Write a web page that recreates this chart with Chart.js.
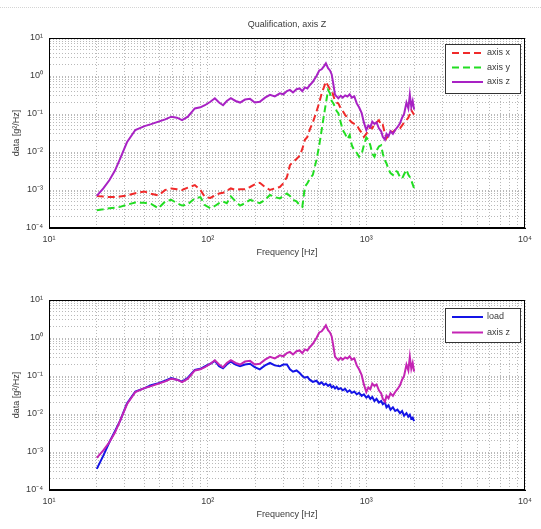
<!DOCTYPE html>
<html>
<head>
<meta charset="utf-8">
<script src="https://cdn.jsdelivr.net/npm/chart.js@4/dist/chart.umd.min.js"></script>
<style>
  body { margin: 0; background: #fff; }
  #wrap { position: relative; width: 541px; height: 529px; overflow: hidden; }
  #rule { position: absolute; left: 0; top: 7px; width: 541px; border-top: 1px dotted #d4d4d4; }
  canvas { position: absolute; left: 0; }
</style>
</head>
<body>
<div id="wrap">
  <div id="rule"></div>
  <canvas id="topChart" width="541" height="262" style="top:0"></canvas>
  <canvas id="bottomChart" width="541" height="267" style="top:262px"></canvas>
</div>
<script>
// frequency points [Hz]
const freq = [
    20, 22, 24, 26, 28, 31, 35, 40, 44, 49,
    54, 59, 64, 69, 75, 83, 90, 96, 104, 111,
    118, 125, 132, 140, 150, 160, 172, 185, 198, 213,
    230, 247, 265, 285, 300, 316, 330, 345, 363, 380,
    395, 410, 425, 441, 460, 485, 505, 523, 540, 556,
    574, 590, 605, 620, 635, 650, 666, 690, 710, 735,
    760, 785, 810, 840, 870, 900, 935, 965, 1000, 1030,
    1060, 1090, 1125, 1160, 1200, 1240, 1270, 1310, 1340, 1380,
    1420, 1470, 1520, 1570, 1630, 1680, 1730, 1790, 1840, 1880,
    1920, 1960, 2000
];

// PSD values [g^2/Hz]
const axisX = [
    6.9e-4, 6.7e-4, 6.5e-4, 6.5e-4, 6.7e-4, 7.2e-4, 8.2e-4, 9.1e-4, 8e-4, 7.2e-4,
    1.0e-3, 1.1e-3, 1.05e-3, 1.0e-3, 1.15e-3, 1.35e-3, 1.0e-3, 6.5e-4, 6.2e-4, 7.2e-4,
    8.1e-4, 8.5e-4, 9.5e-4, 1.1e-3, 1.0e-3, 1.05e-3, 1.05e-3, 1.2e-3, 1.4e-3, 1.55e-3,
    1.2e-3, 1.0e-3, 1.1e-3, 1.2e-3, 1.5e-3, 2.2e-3, 4.5e-3, 5.5e-3, 6.5e-3, 8e-3,
    0.012, 0.021, 0.025, 0.04, 0.06, 0.115, 0.2, 0.35, 0.5, 0.71,
    0.55, 0.45, 0.43, 0.3, 0.22, 0.2, 0.19, 0.14, 0.12, 0.095,
    0.08, 0.069, 0.06, 0.055, 0.052, 0.04, 0.032, 0.025, 0.03, 0.038,
    0.045, 0.042, 0.055, 0.06, 0.069, 0.05, 0.052, 0.03, 0.023, 0.028,
    0.035, 0.033, 0.038, 0.04, 0.042, 0.05, 0.06, 0.069, 0.08, 0.1,
    0.127, 0.11, 0.095
];

const axisY = [
    2.95e-4, 3.1e-4, 3.3e-4, 3.4e-4, 3.6e-4, 4.1e-4, 4.7e-4, 4.6e-4, 4.3e-4, 3.3e-4,
    5e-4, 5.5e-4, 4.5e-4, 3.9e-4, 4.2e-4, 6e-4, 6.5e-4, 4e-4, 3.3e-4, 3.8e-4,
    4.5e-4, 5e-4, 4.5e-4, 6.8e-4, 5e-4, 3.9e-4, 4.5e-4, 5.5e-4, 5e-4, 4.5e-4,
    5.5e-4, 7.4e-4, 6.5e-4, 6e-4, 7e-4, 8.1e-4, 7e-4, 5.5e-4, 5e-4, 4e-4,
    3.6e-4, 1.23e-3, 1.5e-3, 2e-3, 2.5e-3, 6.2e-3, 0.015, 0.038, 0.09, 0.19,
    0.43, 0.35, 0.22, 0.19, 0.15, 0.12, 0.105, 0.06, 0.038, 0.03,
    0.022, 0.028, 0.015, 0.011, 0.0095, 7.5e-3, 9e-3, 0.015, 0.024, 0.021,
    0.015, 9e-3, 7.5e-3, 0.011, 0.014, 0.015, 9e-3, 6e-3, 5e-3, 3.5e-3,
    2.8e-3, 2.5e-3, 3.2e-3, 3e-3, 2.2e-3, 2.0e-3, 2.6e-3, 3.4e-3, 2.5e-3, 2.2e-3,
    1.8e-3, 1.4e-3, 1.1e-3
];

const axisZ = [
    7e-4, 1.1e-3, 1.8e-3, 3.2e-3, 6.5e-3, 0.018, 0.038, 0.048, 0.054, 0.063,
    0.072, 0.085, 0.08, 0.069, 0.085, 0.14, 0.15, 0.17, 0.21, 0.26,
    0.2, 0.17, 0.22, 0.26, 0.22, 0.2, 0.24, 0.25, 0.2, 0.21,
    0.27, 0.32, 0.29, 0.35, 0.33, 0.4, 0.43, 0.37, 0.45, 0.47,
    0.4, 0.5, 0.47, 0.58, 0.7, 1.0, 1.4, 1.5, 1.8, 2.15,
    1.6, 1.4, 1.1, 0.6, 0.32, 0.29, 0.26, 0.3, 0.27, 0.31,
    0.29, 0.33, 0.27, 0.29, 0.19, 0.15, 0.105, 0.06, 0.038, 0.05,
    0.045, 0.063, 0.055, 0.06, 0.042, 0.035, 0.025, 0.021, 0.03, 0.026,
    0.035, 0.03, 0.038, 0.045, 0.057, 0.08, 0.1, 0.2, 0.14, 0.32,
    0.155, 0.22, 0.13
];

const load = [
    3.6e-4, 8e-4, 1.8e-3, 3.5e-3, 6.5e-3, 0.019, 0.039, 0.048, 0.057, 0.065,
    0.075, 0.088, 0.08, 0.071, 0.09, 0.145, 0.155, 0.18, 0.21, 0.25,
    0.18, 0.16, 0.2, 0.24, 0.2, 0.18, 0.2, 0.21, 0.17, 0.15,
    0.19, 0.22, 0.19, 0.18, 0.2, 0.2, 0.15, 0.13, 0.14, 0.12,
    0.1, 0.09, 0.095, 0.079, 0.07, 0.075, 0.062, 0.068, 0.058, 0.063,
    0.055, 0.06, 0.05, 0.054, 0.047, 0.052, 0.045, 0.048, 0.042, 0.046,
    0.038, 0.042, 0.036, 0.039, 0.033, 0.036, 0.03, 0.033, 0.027, 0.03,
    0.025, 0.028, 0.022, 0.025, 0.02, 0.022, 0.018, 0.02, 0.015, 0.017,
    0.013, 0.015, 0.012, 0.013, 0.0105, 0.012, 0.009, 0.0105, 0.0085, 0.0095,
    0.0075, 0.008, 0.0065
];

// axis decades and their labels
const xDecades = [10, 100, 1000, 10000];
const xDecadeLabels = ["10\u00b9", "10\u00b2", "10\u00b3", "10\u2074"];
const yDecades = [1e-4, 1e-3, 1e-2, 1e-1, 1, 10];
const yDecadeLabels = ["10\u207b\u2074", "10\u207b\u00b3", "10\u207b\u00b2", "10\u207b\u00b9", "10\u2070", "10\u00b9"];

const FONT = "'Liberation Sans', Arial, sans-serif";
const TEXT = "#3a3a3a";

// grid lines at 1..9 x each decade
function gridValues(decades) {
    const out = [];
    decades.forEach((d, i) => {
        if (i === decades.length - 1) { out.push(d); return; }
        for (let k = 1; k <= 9; k++) out.push(d * k);
    });
    return out;
}

function decadeLabel(value, decades, labels) {
    for (let i = 0; i < decades.length; i++) {
        if (Math.abs(value / decades[i] - 1) < 1e-6) return labels[i];
    }
    return "";
}

function points(series) {
    return freq.map((f, i) => ({ x: f, y: series[i] }));
}

// title, axis titles, legend and the box round the plot
const framePlugin = {
    id: "frame",
    afterDraw(chart, args, opts) {
        const ctx = chart.ctx;
        const a = chart.chartArea;
        ctx.save();
        ctx.setLineDash([]);
        ctx.strokeStyle = "#000";
        ctx.lineWidth = 1;
        ctx.strokeRect(a.left + 0.5, a.top + 0.5, a.right - a.left - 1, a.bottom - a.top - 1);

        ctx.fillStyle = TEXT;
        ctx.textAlign = "center";
        ctx.textBaseline = "middle";
        ctx.font = "9px " + FONT;
        const cx = (a.left + a.right) / 2;
        if (opts.title) ctx.fillText(opts.title, cx, opts.titleY);
        ctx.fillText("Frequency [Hz]", cx, opts.xTitleY);

        ctx.save();
        ctx.translate(17, (a.top + a.bottom) / 2);
        ctx.rotate(-Math.PI / 2);
        ctx.fillText("data [g\u00b2/Hz]", 0, 0);
        ctx.restore();

        // legend (rows follow the dataset list order)
        const b = opts.legendBox;
        ctx.fillStyle = "#fff";
        ctx.fillRect(b.x, b.y, b.w, b.h);
        ctx.strokeStyle = "#333";
        ctx.strokeRect(b.x + 0.5, b.y + 0.5, b.w, b.h);
        chart.data.datasets.forEach((ds, i) => {
            const y = opts.legendRows[i];
            ctx.strokeStyle = ds.borderColor;
            ctx.lineWidth = 2;
            ctx.setLineDash(ds.borderDash || []);
            ctx.beginPath();
            ctx.moveTo(b.x + 7, y);
            ctx.lineTo(b.x + 38, y);
            ctx.stroke();
            ctx.setLineDash([]);
            ctx.fillStyle = TEXT;
            ctx.textAlign = "left";
            ctx.fillText(ds.label, b.x + 42, y);
        });
        ctx.restore();
    }
};

function makeChart(id, datasets, xAxisHeight, frame) {
    const ctx = document.getElementById(id).getContext("2d");
    return new Chart(ctx, {
        type: "line",
        data: { datasets: datasets },
        options: {
            responsive: false,
            animation: false,
            devicePixelRatio: 1,
            layout: { padding: { top: 38, right: 16, left: 0, bottom: 0 } },
            elements: { point: { radius: 0 }, line: { tension: 0, borderWidth: 2 } },
            plugins: { legend: { display: false }, tooltip: { enabled: false }, frame: frame },
            scales: {
                x: {
                    type: "logarithmic",
                    min: 10, max: 10000,
                    afterBuildTicks: s => { s.ticks = gridValues(xDecades).map(v => ({ value: v })); },
                    afterFit: s => { s.height = xAxisHeight; },
                    ticks: {
                        autoSkip: false, maxRotation: 0, padding: 6,
                        color: TEXT, font: { size: 9, family: FONT },
                        callback: v => decadeLabel(v, xDecades, xDecadeLabels)
                    },
                    grid: { color: "#b9b9b9", lineWidth: 1, drawTicks: false },
                    border: { display: true, color: "#000", dash: [1, 2] }
                },
                y: {
                    type: "logarithmic",
                    min: 1e-4, max: 10,
                    afterBuildTicks: s => { s.ticks = gridValues(yDecades).map(v => ({ value: v })); },
                    afterFit: s => { s.width = 49; },
                    ticks: {
                        autoSkip: false, padding: 6,
                        color: TEXT, font: { size: 9, family: FONT },
                        callback: v => decadeLabel(v, yDecades, yDecadeLabels)
                    },
                    grid: { color: "#b9b9b9", lineWidth: 1, drawTicks: false },
                    border: { display: true, color: "#000", dash: [1, 2] }
                }
            }
        },
        plugins: [framePlugin]
    });
}

// later series drawn on top (higher order is drawn first)
makeChart("topChart", [
    { label: "axis x", data: points(axisX), borderColor: "#f02a2a", borderDash: [7, 4], order: 3 },
    { label: "axis y", data: points(axisY), borderColor: "#22dd22", borderDash: [7, 4], order: 2 },
    { label: "axis z", data: points(axisZ), borderColor: "#a822c4", order: 1 }
], 34, {
    title: "Qualification, axis Z", titleY: 25, xTitleY: 253,
    legendBox: { x: 445, y: 44, w: 75, h: 49 },
    legendRows: [53, 67.5, 82]
});

makeChart("bottomChart", [
    { label: "load", data: points(load), borderColor: "#1414e6", order: 2 },
    { label: "axis z", data: points(axisZ), borderColor: "#c424b4", order: 1 }
], 39, {
    title: "", titleY: 0, xTitleY: 253,
    legendBox: { x: 445, y: 46, w: 75, h: 34 },
    legendRows: [55, 70.5]
});
</script>
</body>
</html>
